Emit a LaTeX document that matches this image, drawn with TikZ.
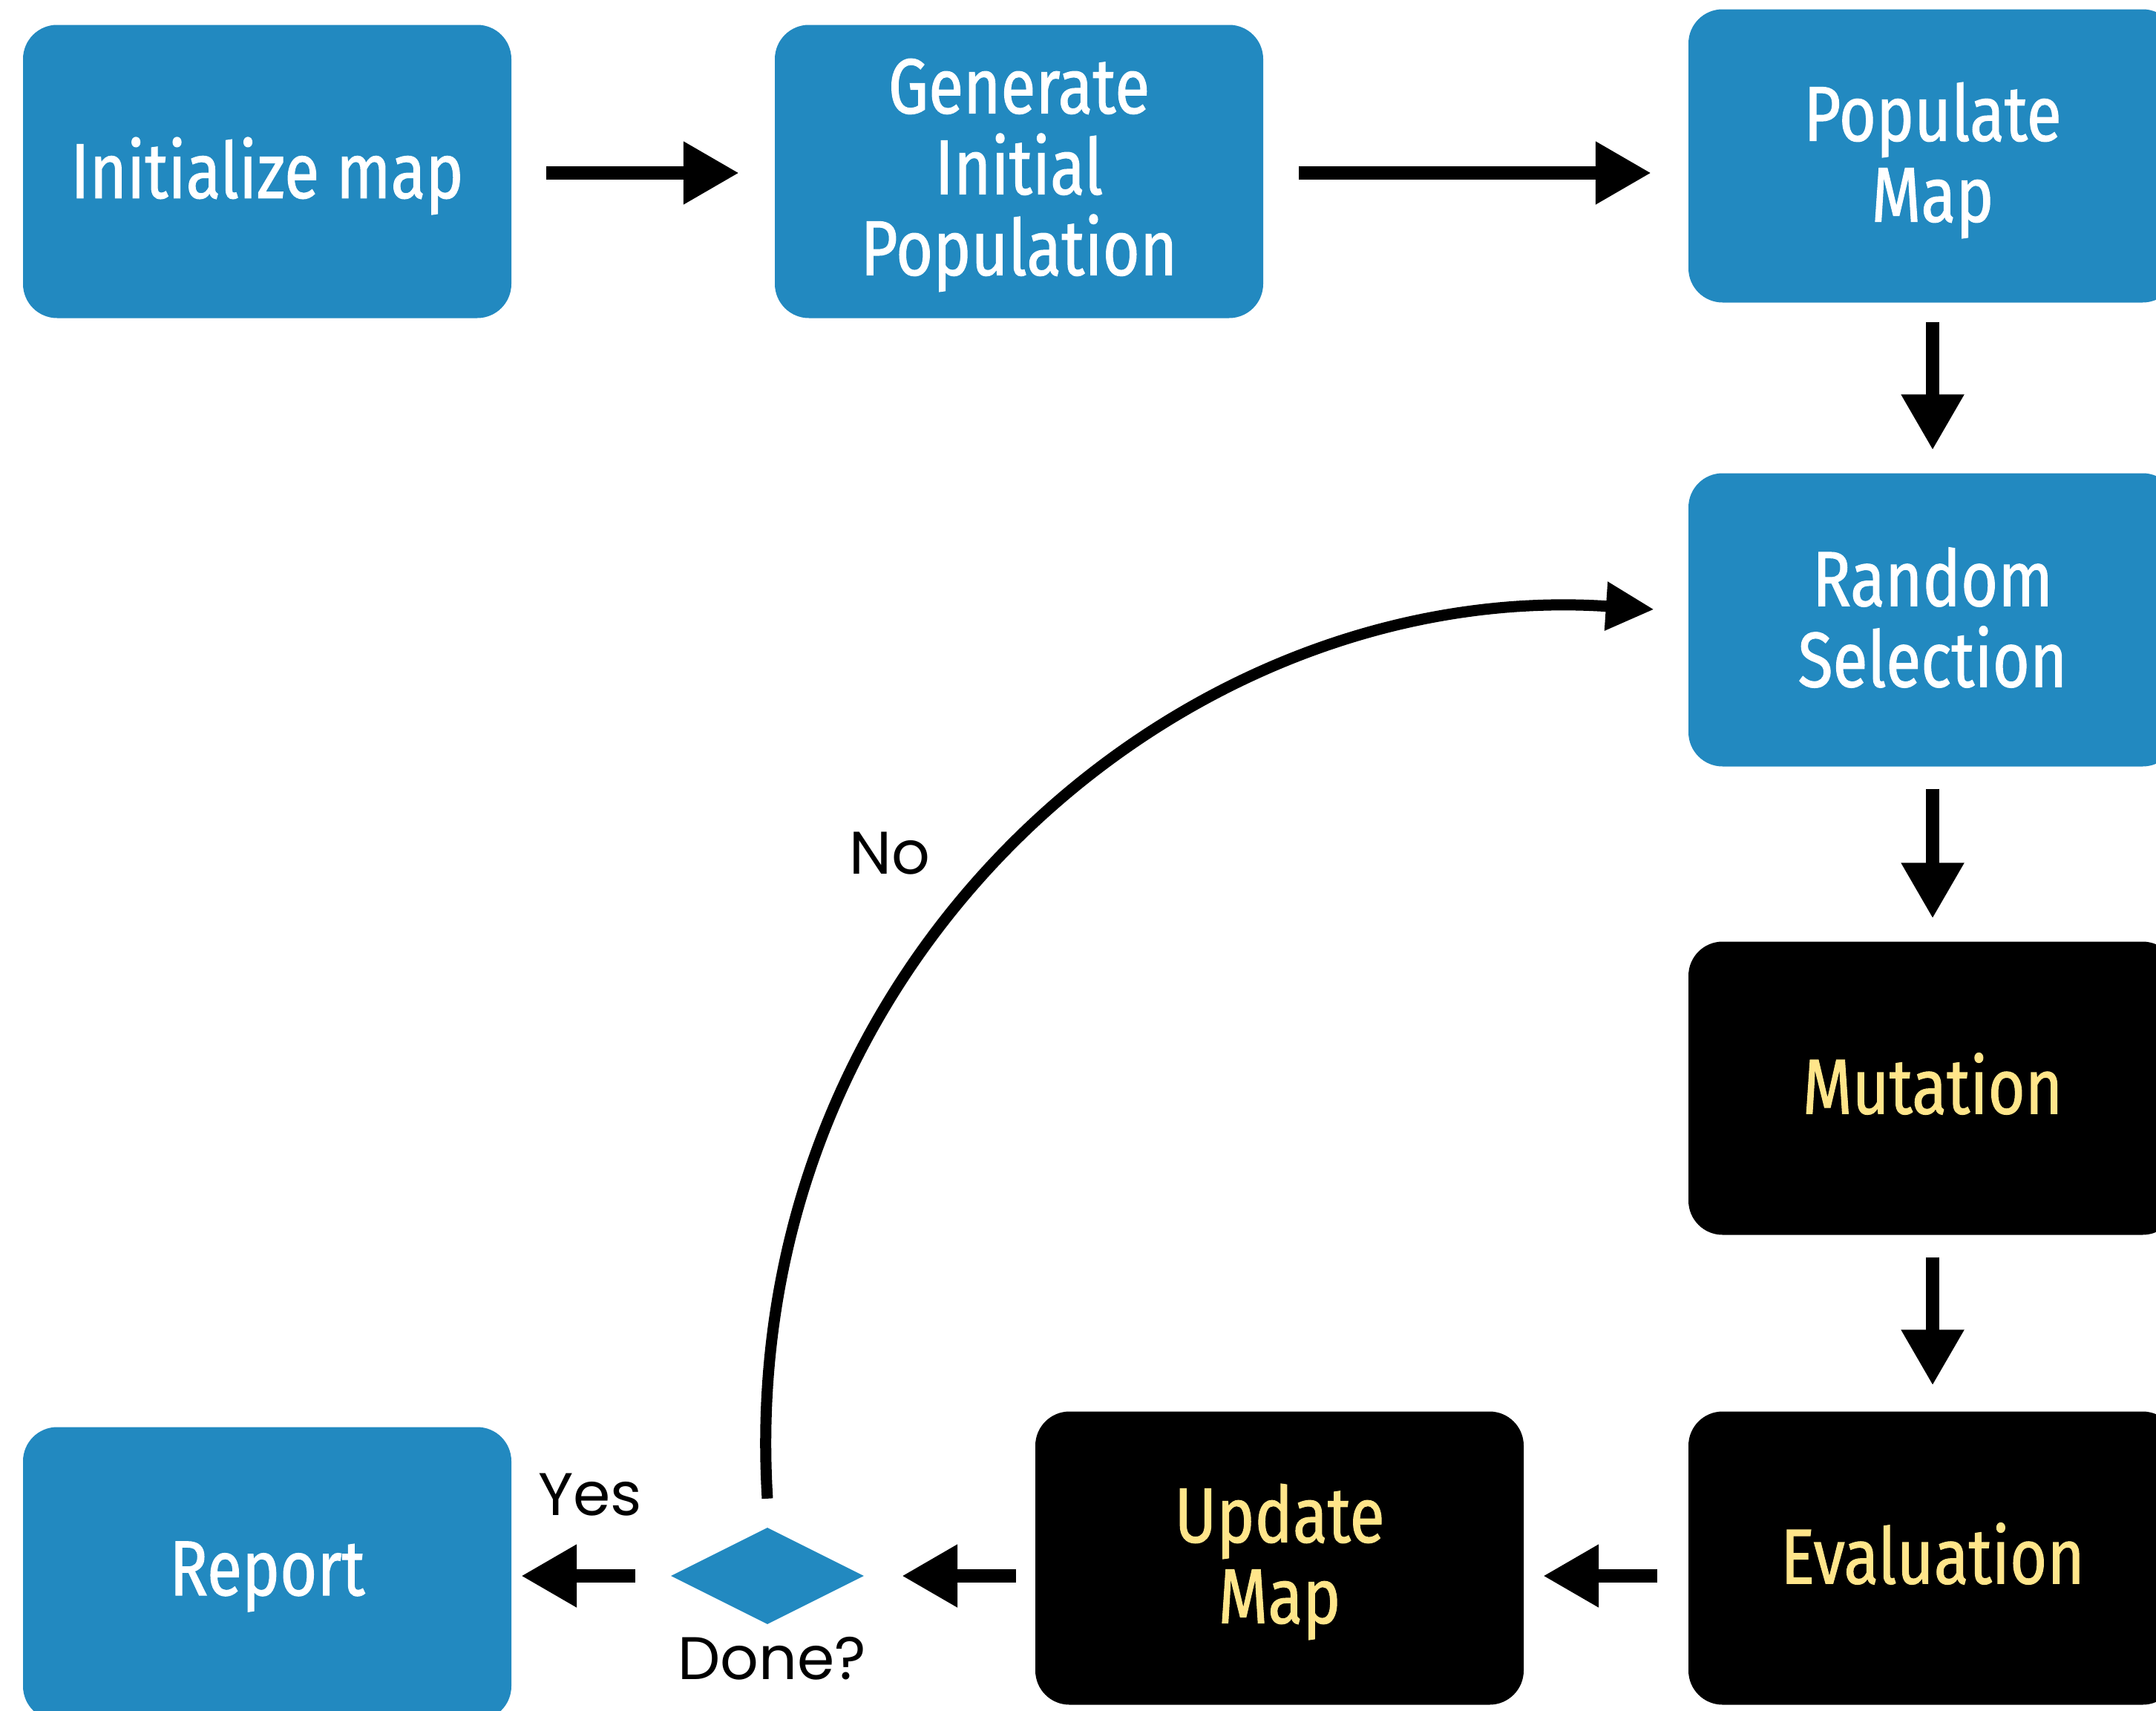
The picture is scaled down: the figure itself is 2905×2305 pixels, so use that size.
\documentclass[tikz,border=0pt]{standalone}
\usepackage{fontspec}
\setmainfont{Fira Sans}[FakeStretch=0.82,FakeBold=1]
\newfontfamily\labelfont{Poppins}
\usetikzlibrary{arrows.meta,shapes.geometric}
\definecolor{boxblue}{RGB}{34,137,192}
\definecolor{txtyellow}{RGB}{255,229,138}
\begin{document}
\begin{tikzpicture}[x=1pt,y=-1pt,
  box/.style={rounded corners=46pt, minimum width=658pt, minimum height=395pt, inner sep=0pt},
  bluebox/.style={box, fill=boxblue},
  blackbox/.style={box, fill=black},
  boxtext/.style={inner sep=0pt, align=center, font=\fontsize{105}{109}\selectfont},
  whitetext/.style={boxtext, text=white},
  yellowtext/.style={boxtext, text=txtyellow},
  flow/.style={line width=18pt, -{Triangle[length=75pt,width=80pt]}},
  loopflow/.style={line width=15pt, -{Triangle[length=65pt,width=62pt]}},
  lbl/.style={font=\labelfont\fontsize{81}{90}\selectfont, inner sep=0pt}]
\useasboundingbox (0,0) rectangle (2905,2305);
\node[bluebox] (init) at (360,231) {};
\node[bluebox] (gen) at (1373,231) {};
\node[bluebox] (pop) at (2604,210) {};
\node[bluebox] (rand) at (2604,835) {};
\node[blackbox] (mut) at (2604,1466) {};
\node[blackbox] (eval) at (2604,2099) {};
\node[blackbox] (upd) at (1724,2099) {};
\node[bluebox] (rep) at (360,2120) {};
\node[whitetext] (initt) at ([yshift=-6pt]init.center) {Initialize map};
\node[whitetext] (gent) at ([yshift=-5pt]gen.center) {Generate\\Initial\\Population};
\node[whitetext] (popt) at ([yshift=-6pt]pop.center) {Populate\\Map};
\node[whitetext] (randt) at ([yshift=3pt]rand.center) {Random\\Selection};
\node[yellowtext] (mutt) at ([yshift=6pt]mut.center) {Mutation};
\node[yellowtext] (evalt) at ([yshift=6pt]eval.center) {Evaluation};
\node[yellowtext] (updt) at ([yshift=-5pt]upd.center) {Update\\Map};
\node[whitetext] (rept) at ([yshift=-4pt]rep.center) {Report};
\node[diamond, fill=boxblue, minimum width=260pt, minimum height=130pt, inner sep=0pt] (dia) at (1034,2123) {};
\node[lbl] (done) at (1040,2234) {Done?};
\node[lbl] (yes) at (795,2014) {Yes};
\node[lbl] (no) at (1199,1150) {No};

\draw[flow] ([xshift=47pt,yshift=-2pt]init.east) -- ([xshift=-48pt,yshift=-2pt]gen.west);
\draw[flow] ([xshift=48pt,yshift=-2pt]gen.east) -- ([xshift=-50pt,yshift=-2pt]gen.east -| pop.west);
\draw[flow] ([yshift=-26pt]pop.south) -- ([yshift=31pt]rand.north);
\draw[flow] ([yshift=-30pt]rand.south) -- ([yshift=31pt]mut.north);
\draw[flow] ([yshift=-30pt]mut.south) -- ([yshift=35pt]eval.north);
\draw[flow] ([xshift=-42pt]eval.west |- dia.center) -- ([xshift=26pt]upd.east |- dia.center);
\draw[flow] ([xshift=-26pt]upd.west |- dia.center) -- ([xshift=51pt]dia.east);
\draw[flow] ([xshift=-48pt]dia.west) -- ([xshift=13pt]rep.east |- dia.center);
\draw[loopflow] ([yshift=39pt]dia.north) .. controls (990,1297) and (1590,778) .. ([xshift=-46pt,yshift=14pt]rand.west);
\end{tikzpicture}
\end{document}
